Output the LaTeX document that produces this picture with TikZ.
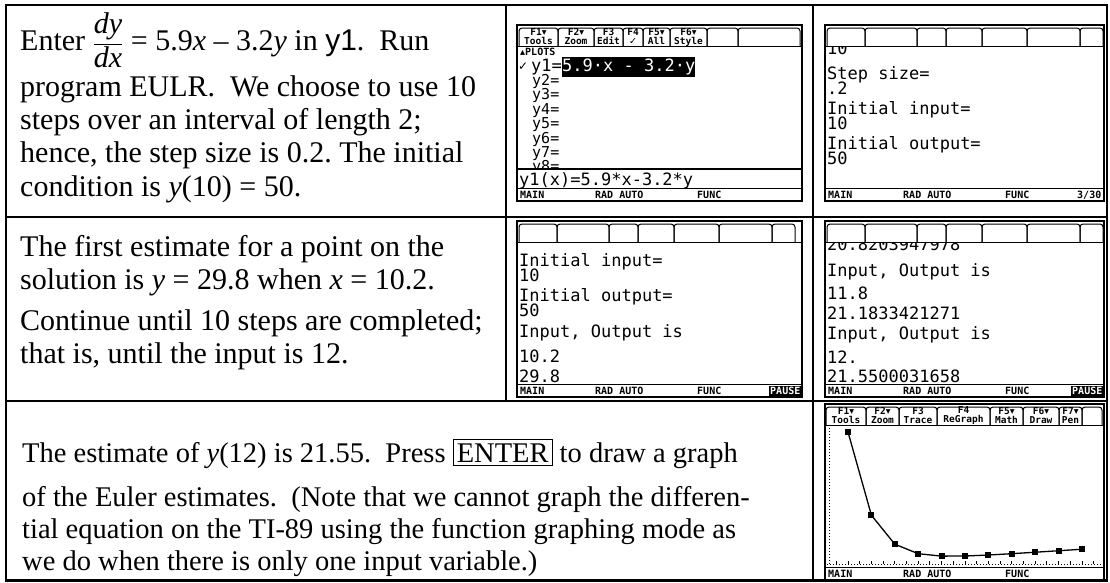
\documentclass[tikz,border=0pt]{standalone}
\usepackage{fontspec}
\setmainfont{Liberation Serif}
\setsansfont{Liberation Sans}
\newfontfamily\calcfont{DejaVu Sans Mono}
\newfontfamily\symfont{DejaVu Sans}
\newcommand\dn{{\symfont ▾}}
\newcommand\chk{{\symfont ✓}}
\frenchspacing
\setlength\fboxsep{3pt}
\setlength\fboxrule{1pt}

% frame, toolbar line, status line of one calculator screen: id, left, top, width
\newcommand\tiscreen[4]{%
  \draw[screen] (#2,#3) rectangle ({#2+#4},{#3+176});
  \draw[line width=1pt] (#2,{#3+21}) -- ({#2+#4},{#3+21});
  \draw[line width=1pt] (#2,{#3+163}) -- ({#2+#4},{#3+163});
  \node[stat] (#1-main) at ({#2+3},{#3+170}) {MAIN};
  \node[stat] (#1-mode) at ({#2+78},{#3+170}) {RAD AUTO};
  \node[stat] (#1-func) at ({#2+180},{#3+170}) {FUNC};
}
% custom menu tabs: left, top
\newcommand\menutabs[2]{%
  \foreach \a/\b in {2/40, 40/92, 92/121, 121/157, 157/202, 202/255, 255/278}
    \draw[tabedge] ({#1+\a},{#2+21}) -- ({#1+\a},{#2+3}) -- ({#1+\b},{#2+3}) -- ({#1+\b},{#2+21});
}

\begin{document}
\begin{tikzpicture}[x=1pt, y=-1pt,
    rule/.style={line width=2.6pt},
    body/.style={anchor=base west, inner sep=0pt, font=\fontsize{30}{33}\selectfont},
    bodysm/.style={body, font=\fontsize{28.5}{32}\selectfont},
    lcd/.style={anchor=west, inner sep=0pt, font=\calcfont\fontsize{17}{17}\selectfont},
    lcdlist/.style={lcd, font=\calcfont\fontsize{15}{15}\selectfont},
    stat/.style={anchor=west, inner sep=0pt, font=\calcfont\bfseries\fontsize{10}{10}\selectfont},
    tabtxt/.style={align=center, inner sep=0pt, font=\calcfont\bfseries\fontsize{9.5}{9}\selectfont},
    screen/.style={draw, line width=1.4pt},
    tabedge/.style={line width=1pt, rounded corners=3pt},
    ptmark/.style={fill, rectangle, minimum size=6pt, inner sep=0pt}
]
\useasboundingbox (0,0) rectangle (1110,582);

% table rules
\draw[rule] (6,5) rectangle (1107,580.5);
\draw[rule] (6,217) -- (1107,217);
\draw[rule] (6,401) -- (1107,401);
\draw[rule] (506,5) -- (506,401);
\draw[rule] (813,5) -- (813,580.5);

% row 1 text
\node[body] (enter) at (20,50) {Enter $\displaystyle\frac{\textit{dy}}{\textit{dx}}$ = 5.9\textit{x} – 3.2\textit{y} in {\sffamily y1}.\ \ Run};
\node[body] (prog) at (20,96) {program EULR.\ \ We choose to use 10};
\node[body] (steps) at (20,129) {steps over an interval of length 2;};
\node[body] (hence) at (20,162) {hence, the step size is 0.2. The initial};
\node[body] (cond) at (20,196) {condition is \textit{y}(10) = 50.};

% row 2 text
\node[body] (first) at (20,256) {The first estimate for a point on the};
\node[body] (sol) at (20,289) {solution is \textit{y} = 29.8 when \textit{x} = 10.2.};
\node[body] (cont) at (20,330) {Continue until 10 steps are completed;};
\node[body] (until) at (20,363) {that is, until the input is 12.};

% row 3 text
\node[bodysm] (est) at (22,462) {The estimate of \textit{y}(12) is 21.55.\ \ Press \fbox{ENTER}\ to draw a graph};
\node[bodysm] (euler) at (22,506) {of the Euler estimates.\ \ (Note that we cannot graph the differen-};
\node[bodysm] (tial) at (22,538) {tial equation on the TI-89 using the function graphing mode as};
\node[bodysm] (only) at (22,570) {we do when there is only one input variable.)};

% Y= editor
\tiscreen{ya}{517}{25}{285}
\foreach \a/\b/\ka/\kb [count=\i] in {519/558/F1\dn/Tools, 558/594/F2\dn/Zoom, 594/623/F3/Edit,
    623/643/F4/\chk, 643/670/F5\dn/All, 670/707/F6\dn/Style} {
  \draw[tabedge] (\a,46) -- (\a,28) -- (\b,28) -- (\b,46);
  \node[tabtxt] (ya-tab\i) at ({(\a+\b)/2},37) {\ka\\\kb};
}
\draw[tabedge] (707,46) -- (707,28) -- (738,28) -- (738,46);
\draw[tabedge] (738,46) -- (738,28) -- (800,28) -- (800,46);
\node[stat] (ya-plots) at (520,52) {{\symfont ▴}PLOTS};
\node[anchor=west, inner sep=0pt, font=\symfont\fontsize{12}{12}\selectfont] (ya-chk) at (518,67) {✓};
\node[lcd] (ya-y1) at (531,67) {y1=};
\node[lcd, fill=black, text=white, inner ysep=1.5pt] (ya-expr) at (562,67) {5.9·x - 3.2·y};
\begin{scope}
  \clip (517,47) rectangle (802,168);
  \foreach \k in {2,...,8}
    \node[lcdlist] (ya-y\k) at (532,{67+14.4*(\k-1)}) {y\k=};
\end{scope}
\draw[line width=2pt] (517,169) -- (802,169);
\node[lcd] (ya-entry) at (519,181) {y1(x)=5.9*x-3.2*y};

% prompts screen
\tiscreen{sa}{825}{25}{279}
\menutabs{825}{25}
\begin{scope}
  \clip (825,47) rectangle (1104,188);
  \node[lcd] (sa-prev) at (827,48) {10};
\end{scope}
\node[lcd] (sa-step) at (827,75) {Step size=};
\node[lcd] (sa-h) at (827,88) {.2};
\node[lcd] (sa-inx) at (827,110) {Initial input=};
\node[lcd] (sa-x0) at (827,123) {10};
\node[lcd] (sa-iny) at (827,145) {Initial output=};
\node[lcd] (sa-y0) at (827,158) {50};
\node[stat] (sa-hist) at (1077,195) {3/30};

% first output screen
\tiscreen{pa}{517}{221}{285}
\menutabs{517}{221}
\node[lcd] (pa-inx) at (519,262) {Initial input=};
\node[lcd] (pa-x0) at (519,275) {10};
\node[lcd] (pa-iny) at (519,297) {Initial output=};
\node[lcd] (pa-y0) at (519,310) {50};
\node[lcd] (pa-io) at (519,333) {Input, Output is};
\node[lcd] (pa-x1) at (519,356) {10.2};
\node[lcd] (pa-y1) at (519,376) {29.8};
\node[stat, fill=black, text=white, inner sep=1pt] (pa-pause) at (769,391) {PAUSE};

% last output screen
\tiscreen{pb}{825}{221}{279}
\menutabs{825}{221}
\begin{scope}
  \clip (825,243) rectangle (1104,384);
  \node[lcd] (pb-prev) at (827,244) {20.8203947978};
\end{scope}
\node[lcd] (pb-io1) at (827,272) {Input, Output is};
\node[lcd] (pb-x9) at (827,293) {11.8};
\node[lcd] (pb-y9) at (827,313) {21.1833421271};
\node[lcd] (pb-io2) at (827,335) {Input, Output is};
\node[lcd] (pb-x10) at (827,357) {12.};
\node[lcd] (pb-y10) at (827,376) {21.5500031658};
\node[stat, fill=black, text=white, inner sep=1pt] (pb-pause) at (1071,391) {PAUSE};

% graph screen
\tiscreen{ga}{825}{404}{279}
\foreach \a/\b/\ka/\kb [count=\i] in {826/866/F1\dn/Tools, 866/899/F2\dn/Zoom, 899/937/F3/Trace,
    937/990/F4/ReGraph, 990/1023/F5\dn/Math, 1023/1059/F6\dn/Draw, 1059/1082/F7\dn/Pen} {
  \draw[tabedge] (\a,425) -- (\a,407) -- (\b,407) -- (\b,425);
  \node[tabtxt] (ga-tab\i) at ({(\a+\b)/2},416) {\ka\\\kb};
}
\draw[tabedge] (1082,425) -- (1082,407) -- (1102,407) -- (1102,425);
\draw[line width=1pt, dotted] (829,428) -- (829,564);
\draw[line width=1pt, dotted] (827,564) -- (1102,564);
\foreach \k in {0,...,22}
  \draw[line width=1pt] ({836.3+11.7*\k},564) -- ++(0,-3);
\foreach \xv/\yv [count=\i from 0] in {10/50, 10.2/29.8, 10.4/22.764, 10.6/20.467, 10.8/19.876,
    11/19.899, 11.2/20.144, 11.4/20.468, 11.6/20.820, 11.8/21.183, 12/21.550}
  \coordinate (g\i) at ({848+(\xv-10)*117},{432+(50-\yv)*4.12});
\draw[line width=1.3pt] (g0) \foreach \i in {1,...,10}{ -- (g\i)};
\foreach \i in {0,...,10}
  \node[ptmark] (ga-pt\i) at (g\i) {};
\end{tikzpicture}
\end{document}
